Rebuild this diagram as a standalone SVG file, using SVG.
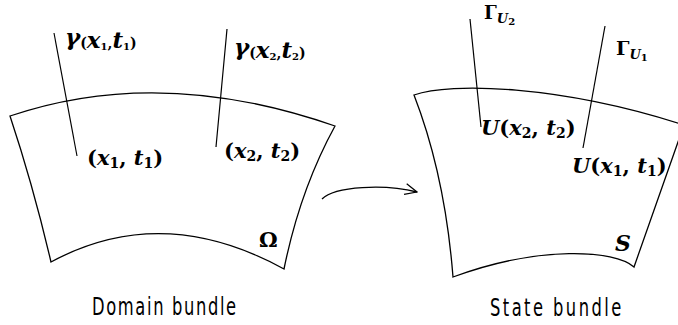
<svg xmlns="http://www.w3.org/2000/svg" width="678" height="325" viewBox="0 0 678 325">
<style>
.edge{fill:none;stroke:#000;stroke-width:1.3;stroke-linejoin:miter}
.fib{fill:none;stroke:#000;stroke-width:1.2}
.m{font-family:"DejaVu Serif","Liberation Serif",serif;font-weight:bold;font-style:italic;fill:#000}
.up{font-style:normal}
.cap{font-family:"DejaVu Sans","Liberation Sans",sans-serif;font-size:24px;fill:#000}
</style>
<defs>
<marker id="open" viewBox="0 0 14 14" refX="13" refY="7" markerWidth="14" markerHeight="14" markerUnits="userSpaceOnUse" orient="auto">
<path d="M1,1.5 L13,7 L1,12.5" fill="none" stroke="#000" stroke-width="1.2"/>
</marker>
</defs>
<rect width="678" height="325" fill="#fff"/>

<g id="domain-bundle">
<path class="edge" d="M10,116 Q160,65 335,126 Q300,190 284,269 Q162,202 51,262 Q33,185 10,116 Z"/>
<line class="fib" x1="54" y1="33" x2="77" y2="156"/>
<line class="fib" x1="227" y1="29" x2="216" y2="147"/>
<text class="m" x="65" y="45" font-size="23">γ<tspan font-size="14" dy="3" class="up">(</tspan>x<tspan font-size="10" dy="2" class="up">1</tspan><tspan font-size="14" dy="-2" class="up">,</tspan>t<tspan font-size="10" dy="2" class="up">1</tspan><tspan font-size="14" dy="-2" class="up">)</tspan></text>
<text class="m" x="234" y="55" font-size="23">γ<tspan font-size="14" dy="3" class="up">(</tspan>x<tspan font-size="10" dy="2" class="up">2</tspan><tspan font-size="14" dy="-2" class="up">,</tspan>t<tspan font-size="10" dy="2" class="up">2</tspan><tspan font-size="14" dy="-2" class="up">)</tspan></text>
<text class="m" x="87" y="165" font-size="21"><tspan class="up">(</tspan>x<tspan font-size="14" dy="3" class="up">1</tspan><tspan dy="-3" class="up">, </tspan>t<tspan font-size="14" dy="3" class="up">1</tspan><tspan dy="-3" class="up">)</tspan></text>
<text class="m" x="224" y="158" font-size="21"><tspan class="up">(</tspan>x<tspan font-size="14" dy="3" class="up">2</tspan><tspan dy="-3" class="up">, </tspan>t<tspan font-size="14" dy="3" class="up">2</tspan><tspan dy="-3" class="up">)</tspan></text>
<text class="m up" x="259" y="247" font-size="21">Ω</text>
<text class="cap" transform="translate(92,315) scale(0.68,1)" x="0" y="0" textLength="212" lengthAdjust="spacing">Domain bundle</text>
</g>

<g id="state-bundle">
<path class="edge" d="M414,95 C450,82 560,85 684,125 L634,267 C615,250 540,245 453,277 Q445,175 414,95 Z"/>
<line class="fib" x1="470" y1="19" x2="481" y2="127"/>
<line class="fib" x1="605" y1="26" x2="583" y2="148"/>
<text class="m" x="484" y="19" font-size="18"><tspan class="up">Γ</tspan><tspan font-size="13" dy="4">U</tspan><tspan font-size="10" dy="2" class="up">2</tspan></text>
<text class="m" x="616" y="55" font-size="19"><tspan class="up">Γ</tspan><tspan font-size="13" dy="4">U</tspan><tspan font-size="10" dy="2" class="up">1</tspan></text>
<text class="m" x="481" y="135" font-size="21">U<tspan class="up">(</tspan>x<tspan font-size="14" dy="3" class="up">2</tspan><tspan dy="-3" class="up">, </tspan>t<tspan font-size="14" dy="3" class="up">2</tspan><tspan dy="-3" class="up">)</tspan></text>
<text class="m" x="572" y="173" font-size="21">U<tspan class="up">(</tspan>x<tspan font-size="14" dy="3" class="up">1</tspan><tspan dy="-3" class="up">, </tspan>t<tspan font-size="14" dy="3" class="up">1</tspan><tspan dy="-3" class="up">)</tspan></text>
<text class="m" x="615" y="251" font-size="22">S</text>
<text class="cap" transform="translate(490,316) scale(0.68,1)" x="0" y="0" textLength="193" lengthAdjust="spacing">State bundle</text>
</g>

<g id="connectors">
<path class="edge" d="M322,199 C335,186 385,184 417,192" marker-end="url(#open)"/>
</g>
</svg>
